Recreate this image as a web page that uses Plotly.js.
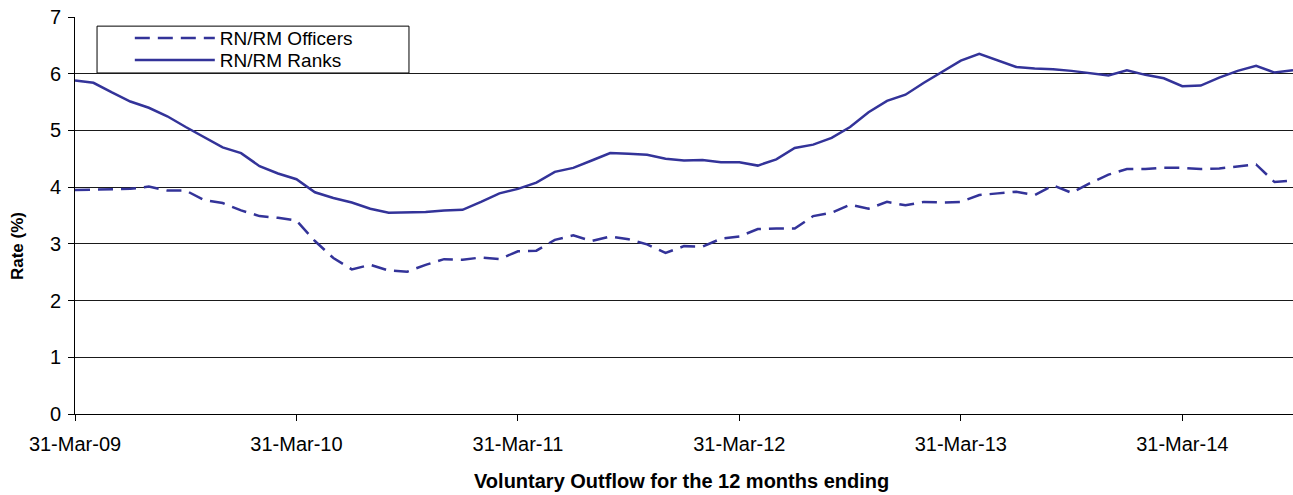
<!DOCTYPE html>
<html>
<head>
<meta charset="utf-8">
<script src="https://cdn.plot.ly/plotly-3.0.1.min.js"></script>
<style>
  html, body { margin: 0; padding: 0; background: #ffffff; }
  #chart { width: 1293px; height: 495px; }
</style>
</head>
<body>
<div id="chart"></div>
<script>
// Month-end periods, 31-Mar-09 .. 30-Sep-14
const monthNames = ['Jan','Feb','Mar','Apr','May','Jun','Jul','Aug','Sep','Oct','Nov','Dec'];
const monthEnds = [31,28,31,30,31,30,31,31,30,31,30,31];
const periods = [];
for (let y = 2009; y <= 2014; y++) {
  for (let m = 0; m < 12; m++) {
    if (y === 2009 && m < 2) continue;
    if (y === 2014 && m > 8) continue;
    let d = monthEnds[m];
    if (m === 1 && y % 4 === 0) d = 29;
    periods.push(d + '-' + monthNames[m] + '-' + String(y).slice(2));
  }
}

const tickLabels = ['31-Mar-09','31-Mar-10','31-Mar-11','31-Mar-12','31-Mar-13','31-Mar-14'];

const officers = [3.95,3.96,3.96,3.97,4.01,3.94,3.94,3.77,3.72,3.59,3.49,3.46,
                  3.41,3.05,2.75,2.55,2.63,2.53,2.51,2.63,2.73,2.72,2.76,2.73,
                  2.87,2.88,3.07,3.15,3.05,3.13,3.08,2.99,2.84,2.96,2.95,3.09,
                  3.13,3.26,3.27,3.27,3.49,3.55,3.69,3.62,3.74,3.68,3.74,3.73,
                  3.74,3.86,3.89,3.92,3.86,4.03,3.90,4.07,4.22,4.32,4.32,4.34,
                  4.34,4.32,4.33,4.37,4.40,4.09,4.12];

const ranks = [5.88,5.84,5.67,5.51,5.40,5.25,5.06,4.88,4.70,4.60,4.37,4.24,
               4.14,3.91,3.81,3.73,3.62,3.55,3.56,3.56,3.59,3.60,3.74,3.89,
               3.97,4.08,4.27,4.34,4.47,4.60,4.59,4.57,4.50,4.47,4.48,4.44,
               4.44,4.38,4.49,4.69,4.75,4.87,5.06,5.32,5.52,5.63,5.84,6.04,
               6.23,6.35,6.23,6.12,6.09,6.08,6.05,6.01,5.97,6.06,5.98,5.92,
               5.78,5.79,5.93,6.05,6.14,6.02,6.06];

const lineColor = '#333399';
const fontFamily = '"Liberation Sans", Arial, sans-serif';
const textSize = 20;

const traces = [
  {
    x: periods, y: officers, type: 'scatter', mode: 'lines',
    name: 'RN/RM Officers', legend: 'legend',
    line: { color: lineColor, width: 2.5, dash: '15px,8px' },
    cliponaxis: false
  },
  {
    x: periods, y: ranks, type: 'scatter', mode: 'lines',
    name: 'RN/RM Ranks', legend: 'legend2',
    line: { color: lineColor, width: 2.5 },
    cliponaxis: false
  }
];

const legendBase = {
  xanchor: 'left', yanchor: 'top',
  bgcolor: 'rgba(0,0,0,0)', borderwidth: 0,
  font: { family: fontFamily, size: 19, color: '#000000' },
  itemwidth: 80
};

const layout = {
  width: 1293, height: 495,
  margin: { l: 75, r: 0, t: 17, b: 81, pad: 0 },
  paper_bgcolor: '#ffffff', plot_bgcolor: '#ffffff',
  font: { family: fontFamily, size: textSize, color: '#000000' },
  showlegend: true,
  legend: Object.assign({}, legendBase, { x: 0.045, y: 0.9945 }),
  legend2: Object.assign({}, legendBase, { x: 0.045, y: 0.939 }),
  xaxis: {
    type: 'category',
    range: [0, 66],
    tickmode: 'array', tickvals: tickLabels, ticktext: tickLabels,
    ticks: 'outside', ticklen: 6, tickcolor: '#000000', tickwidth: 1,
    showline: true, linecolor: '#000000', linewidth: 1,
    showgrid: false, zeroline: false, automargin: false,
    ticklabelstandoff: 6,
    tickfont: { family: fontFamily, size: textSize, color: '#000000' }
  },
  yaxis: {
    range: [0, 7], dtick: 1, tick0: 0,
    ticks: 'outside', ticklen: 6, tickcolor: '#000000', tickwidth: 1,
    showline: true, linecolor: '#000000', linewidth: 1,
    showgrid: true, gridcolor: '#1a1a1a', gridwidth: 1,
    zeroline: false, automargin: false,
    ticklabelstandoff: 3,
    tickfont: { family: fontFamily, size: textSize, color: '#000000' }
  },
  shapes: [
    { type: 'rect', xref: 'paper', yref: 'paper',
      x0: 0.0181, x1: 0.2742, y0: 0.859, y1: 0.977,
      line: { color: '#000000', width: 1 }, fillcolor: '#ffffff', layer: 'below' }
  ],
  annotations: [
    { text: '<b>Rate (%)</b>', xref: 'paper', yref: 'paper',
      x: -0.0476, y: 0.423, xanchor: 'center', yanchor: 'middle',
      textangle: -90, showarrow: false,
      font: { family: fontFamily, size: 17, color: '#000000' } },
    { text: '<b>Voluntary Outflow for the 12 months ending</b>', xref: 'paper', yref: 'paper',
      x: 0.498, y: -0.1688, xanchor: 'center', yanchor: 'middle',
      showarrow: false,
      font: { family: fontFamily, size: 20, color: '#000000' } }
  ]
};

Plotly.newPlot('chart', traces, layout, { displayModeBar: false, staticPlot: true });
</script>
</body>
</html>
